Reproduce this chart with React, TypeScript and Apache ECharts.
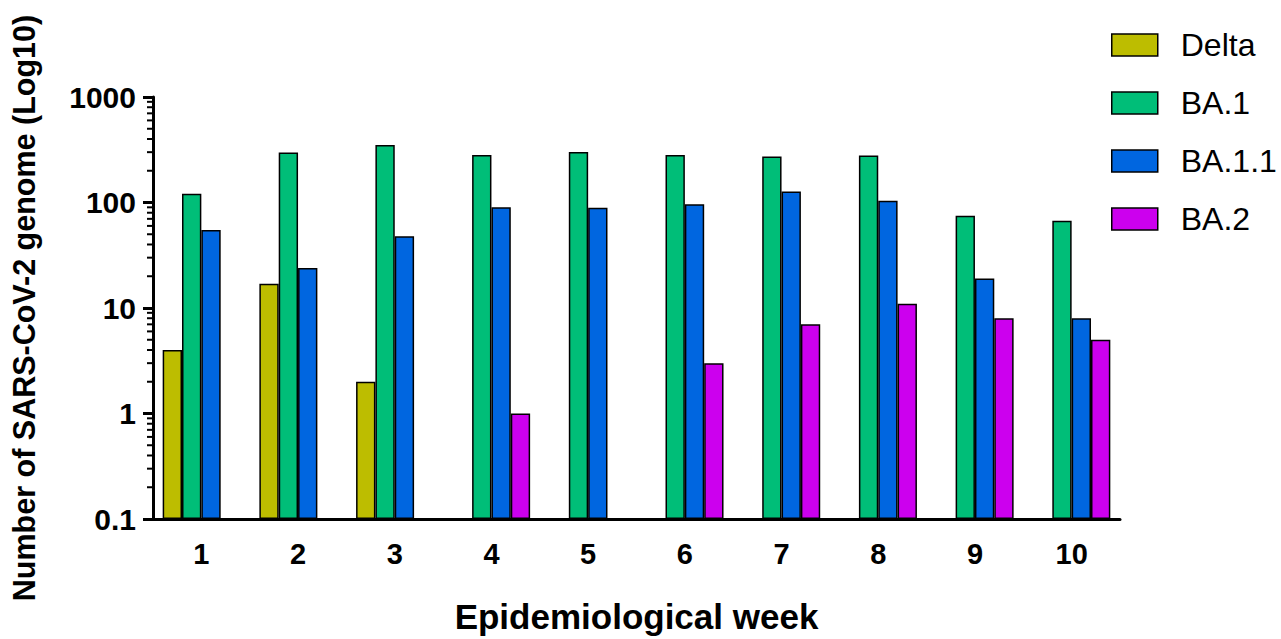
import React, { useEffect, useRef } from "react";
import * as echarts from "echarts";

const weeks = ["1", "2", "3", "4", "5", "6", "7", "8", "9", "10"];
const seriesNames = ["Delta", "BA.1", "BA.1.1", "BA.2"];
const delta = [4, 17, 2, null, null, null, null, null, null, null];
const ba1 = [121, 297, 350, 282, 301, 282, 273, 279, 75, 67];
const ba11 = [55, 24, 48, 90, 89, 96, 127, 104, 19, 8];
const ba2 = [null, null, null, 1, null, 3, 7, 11, 8, 5];
const colors = ["#BDBD00", "#00BE78", "#0066E0", "#CC00EE"];
const minorTickValues = [
  0.2, 0.3, 0.4, 0.5, 0.6, 0.7, 0.8, 0.9,
  2, 3, 4, 5, 6, 7, 8, 9,
  20, 30, 40, 50, 60, 70, 80, 90,
  200, 300, 400, 500, 600, 700, 800, 900,
];

export default function App() {
  const ref = useRef<HTMLDivElement>(null);
  useEffect(() => {
    document.body.style.margin = "0";
    const chart = echarts.init(ref.current!, null, { renderer: "svg" });
    const font = "Liberation Sans, Arial, sans-serif";
    const dataSets = [delta, ba1, ba11, ba2];
    const barSeries = dataSets.map((d, i) => ({
      name: seriesNames[i],
      type: "bar",
      data: d,
      barGap: "0%",
      barCategoryGap: "20%",
      itemStyle: { color: colors[i], borderColor: "#000", borderWidth: 1.5 },
    }));
    chart.setOption({
      animation: false,
      backgroundColor: "#fff",
      textStyle: { fontFamily: font, color: "#000" },
      grid: { left: 152, right: 161, top: 97, bottom: 116, containLabel: false },
      legend: {
        orient: "vertical",
        left: 1106,
        top: 24,
        icon: "rect",
        itemWidth: 46,
        itemHeight: 22,
        itemGap: 26,
        data: seriesNames,
        itemStyle: { borderColor: "#000", borderWidth: 1.5 },
        textStyle: { fontSize: 32, color: "#000", fontFamily: font, padding: [0, 0, 0, 18] },
      },
      xAxis: {
        type: "category",
        data: weeks,
        name: "Epidemiological week",
        nameLocation: "middle",
        nameGap: 80,
        nameTextStyle: { fontSize: 35, fontWeight: "bold", color: "#000", fontFamily: font },
        axisLine: { lineStyle: { color: "#000", width: 3 } },
        axisTick: { alignWithLabel: true, length: 10, lineStyle: { color: "#000", width: 3 } },
        axisLabel: { fontSize: 29, fontWeight: "bold", color: "#000", margin: 20, fontFamily: font },
      },
      yAxis: {
        type: "log",
        logBase: 10,
        min: 0.1,
        max: 1000,
        startValue: 0.1,
        name: "Number of SARS-CoV-2 genome (Log10)",
        nameLocation: "middle",
        nameGap: 114,
        nameTextStyle: { fontSize: 30.5, fontWeight: "bold", color: "#000", fontFamily: font },
        axisLine: { show: true, lineStyle: { color: "#000", width: 3 } },
        axisTick: { show: true, length: 10, lineStyle: { color: "#000", width: 3 } },
        splitLine: { show: false },
        axisLabel: {
          fontSize: 30,
          fontWeight: "bold",
          color: "#000",
          margin: 17,
          fontFamily: font,
          formatter: (v: number) => String(parseFloat(Number(v).toPrecision(6))),
        },
      },
      series: [
        ...barSeries,
        {
          type: "custom",
          name: "minorTicks",
          silent: true,
          clip: false,
          z: 5,
          data: minorTickValues.map((v) => [0, v]),
          renderItem: (params: any, api: any) => {
            const pt = api.coord([0, api.value(1)]);
            const x = params.coordSys.x;
            return {
              type: "line",
              shape: { x1: x - 6, y1: pt[1], x2: x, y2: pt[1] },
              style: { stroke: "#000", lineWidth: 2 },
            };
          },
        },
      ],
    });
    return () => chart.dispose();
  }, []);
  return <div ref={ref} style={{ width: 1281, height: 639 }} />;
}
